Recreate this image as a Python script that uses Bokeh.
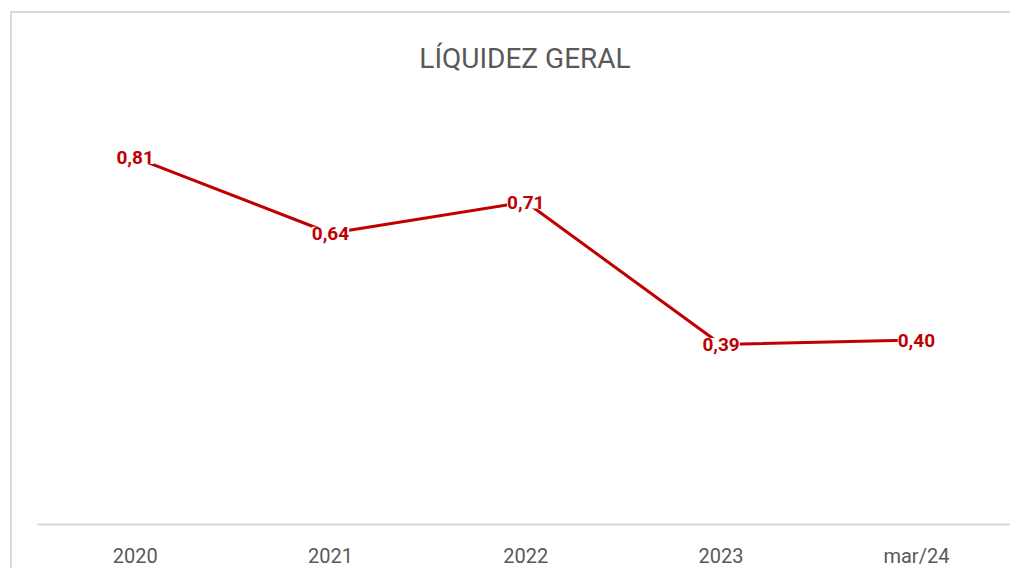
from bokeh.plotting import figure
from bokeh.models import ColumnDataSource, LabelSet, Range1d, FixedTicker
from bokeh.core.properties import value
from bokeh.embed import file_html
from bokeh.resources import INLINE

# ---- data ----
categories = ["2020", "2021", "2022", "2023", "mar/24"]
values = [0.81, 0.64, 0.71, 0.39, 0.40]
title_text = "LÍQUIDEZ GERAL"

FONT = "Roboto"
RED = "#C00000"
GREY = "#595959"

xs = list(range(len(categories)))
labels = [f"{v:.2f}".replace(".", ",") for v in values]
src = ColumnDataSource(dict(x=xs, y=values, lbl=labels))

p = figure(
    width=1000, height=557,
    output_backend="svg", toolbar_location=None,
    x_range=Range1d(-0.5, 4.492), y_range=Range1d(-0.0146, 0.972),
    min_border_left=25, min_border_right=0, min_border_top=72, min_border_bottom=46,
)
p.margin = (11, 0, 0, 10)
p.styles = {"border-top": "2px solid #d9d9d9", "border-left": "2px solid #d9d9d9"}

p.title.text = title_text
p.title.align = "center"
p.title.text_font = FONT
p.title.text_font_size = "28px"
p.title.text_font_style = "normal"
p.title.text_color = GREY
p.title.standoff = 21
p.title.offset = 6

p.outline_line_color = None
p.xgrid.grid_line_color = None
p.ygrid.grid_line_color = None
p.yaxis.visible = False

p.xaxis.ticker = FixedTicker(ticks=xs)
p.xaxis.major_label_overrides = {i: c for i, c in enumerate(categories)}
p.xaxis.axis_line_color = "#d9d9d9"
p.xaxis.axis_line_width = 2
p.xaxis.major_tick_line_color = None
p.xaxis.minor_tick_line_color = None
p.xaxis.major_label_standoff = 13
p.xaxis.major_label_text_font = FONT
p.xaxis.major_label_text_font_size = "20px"
p.xaxis.major_label_text_color = GREY

p.line("x", "y", source=src, line_color=RED, line_width=3)

lab = LabelSet(x="x", y="y", text="lbl", source=src,
               text_align="center", text_baseline="middle",
               text_font=value(FONT), text_font_size=value("19px"),
               text_font_style=value("bold"),
               text_color=RED, background_fill_color="white")
p.add_layout(lab)

open("out.html", "w").write(file_html(p, INLINE))
